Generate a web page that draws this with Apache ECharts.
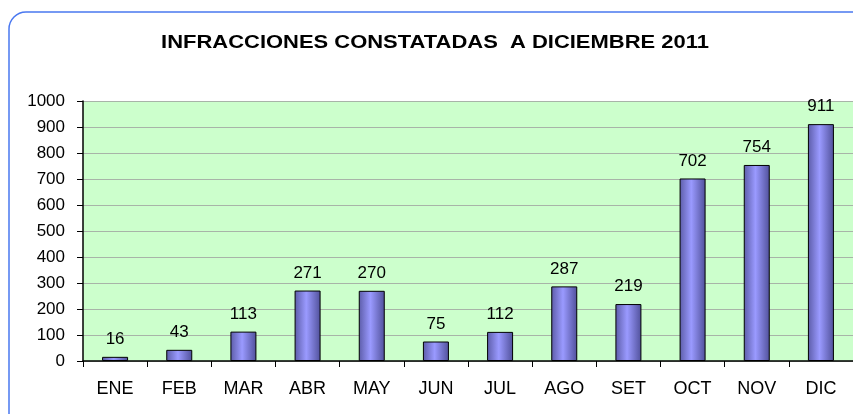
<!DOCTYPE html>
<html>
<head>
<meta charset="utf-8">
<script src="https://cdn.jsdelivr.net/npm/echarts@6/dist/echarts.min.js"></script>
<style>
    html, body { margin: 0; padding: 0; background: #fff; }
    #chart { width: 853px; height: 414px; }
</style>
</head>
<body>
<div id="chart"></div>
<script>
    // datos
    const meses = ['ENE', 'FEB', 'MAR', 'ABR', 'MAY', 'JUN', 'JUL', 'AGO', 'SET', 'OCT', 'NOV', 'DIC']
    const infracciones = [16, 43, 113, 271, 270, 75, 112, 287, 219, 702, 754, 911]
    const titulo = 'INFRACCIONES CONSTATADAS  A DICIEMBRE 2011'

    const chart = echarts.init(document.getElementById('chart'))
    const font = 'Liberation Sans, Arial, sans-serif'

    const option = {
        animation: false,
        textStyle: { fontFamily: font },
        graphic: [
            {
                type: 'rect',
                shape: { x: 9, y: 12, width: 900, height: 500, r: 17 },
                style: { fill: 'none', stroke: '#4a78f0', lineWidth: 1.5 },
                z: -10
            },
            {
                // titulo, algo estirado a lo ancho como en el original
                type: 'text',
                x: 435,
                y: 43,
                scaleX: 1.22,
                style: {
                    text: titulo,
                    fill: '#000',
                    font: 'bold 18px ' + font,
                    textAlign: 'center',
                    textVerticalAlign: 'middle'
                }
            }
        ],
        grid: {
            left: 83,
            right: -4,
            top: 101,
            bottom: 53,
            show: true,
            backgroundColor: '#ccffcc',
            borderWidth: 0
        },
        xAxis: {
            type: 'category',
            data: meses,
            axisLine: { lineStyle: { color: '#000', width: 1.5 } },
            axisTick: { show: true, length: 6, lineStyle: { color: '#000' } },
            axisLabel: { color: '#000', fontSize: 18, margin: 19, fontFamily: font }
        },
        yAxis: {
            type: 'value',
            min: 0,
            max: 1000,
            interval: 100,
            axisLine: { show: true, lineStyle: { color: '#000', width: 1.5 } },
            axisTick: { show: true, length: 6, lineStyle: { color: '#000' } },
            axisLabel: {
                color: '#000',
                fontSize: 17,
                margin: 18,
                fontFamily: font,
                formatter: v => String(v)
            },
            splitLine: { lineStyle: { color: '#a8b4a8', width: 1 } }
        },
        series: [
            {
                type: 'bar',
                data: infracciones,
                barWidth: 26,
                itemStyle: {
                    color: new echarts.graphic.LinearGradient(0, 0, 1, 0, [
                        { offset: 0, color: '#5c5ca8' },
                        { offset: 0.45, color: '#9a9aff' },
                        { offset: 1, color: '#50509a' }
                    ]),
                    borderColor: '#000',
                    borderWidth: 1
                },
                label: {
                    show: true,
                    position: 'top',
                    distance: 9,
                    color: '#000',
                    fontSize: 17,
                    fontFamily: font
                }
            }
        ]
    }
    chart.setOption(option)
</script>
</body>
</html>
